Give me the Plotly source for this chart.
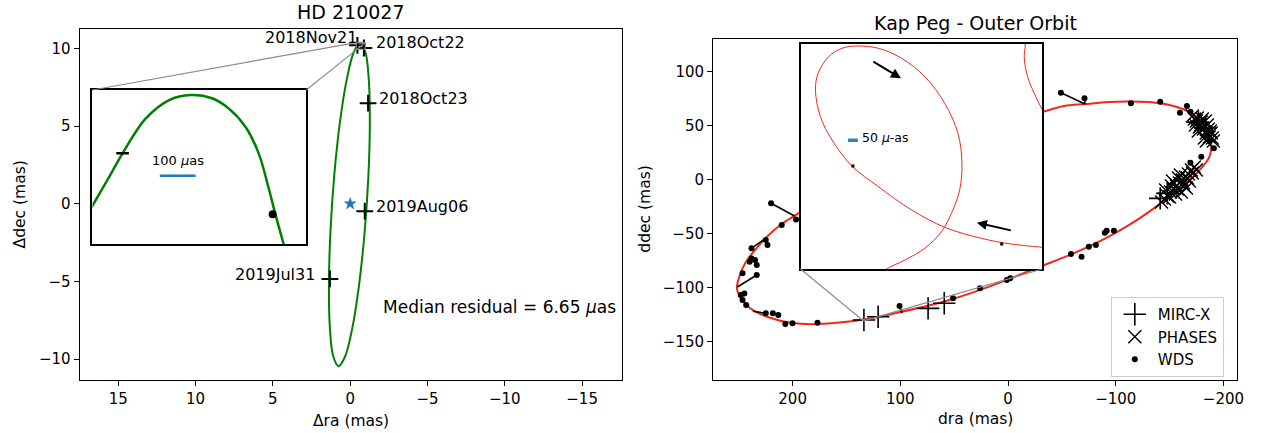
import plotly.graph_objects as go

# page geometry (the page body margin is removed by a post script, so the
# figure fills the 1261x433 window exactly)
PAGE_W, PAGE_H = 1261, 433
OFF = 0
FW, FH = PAGE_W - OFF, PAGE_H - OFF
FONT = "DejaVu Sans"

# ------------------------------------------------------------------ HD 210027
orbit_ra = [1.028, 1.274, 1.372, 1.312, 1.098, 0.759, 0.334, -0.126, -0.564, -0.928,
            -1.174, -1.272, -1.212, -0.998, -0.659, -0.234, 0.226, 0.664, 1.028]
orbit_dec = [1.830, -1.780, -5.184, -7.967, -9.795, -10.449, -9.847, -8.065, -5.316, -1.930,
             1.680, 5.084, 7.867, 9.695, 10.349, 9.747, 7.965, 5.216, 1.830]

epochs = ["2018Nov21", "2018Oct22", "2018Oct23", "2019Aug06", "2019Jul31"]
epoch_ra = [-0.47, -0.889, -1.16, -0.945, 1.31]
epoch_dec = [10.188, 10.019, 6.47, -0.48, -4.84]
primary_ra = [0.0]
primary_dec = [0.0]
median_text = "Median residual = 6.65 <i>μ</i>as"

zoom_ra = [-0.36, -0.387, -0.433, -0.470, -0.535, -0.600, -0.660, -0.720, -0.766,
           -0.813, -0.850, -0.877, -0.896, -0.919, -0.927]
zoom_dec = [9.998, 10.044, 10.123, 10.188, 10.285, 10.336, 10.350, 10.341, 10.313,
            10.262, 10.188, 10.095, 10.021, 9.938, 9.908]
zoom_ra_range = [-0.386, -0.983]
zoom_dec_range = [9.936, 10.364]
bar_ra = [-0.574, -0.674]
bar_dec = [10.126, 10.126]
bar_label_pos = (-0.624, 10.167)

# ------------------------------------------------------------------ Kap Peg
orbit2_ra = [-31.8, -52.1, -71.5, -93.6, -114.9, -135.2, -153.7, -168.4, -178.6, -185.1,
             -188.7, -186.9, -179.5, -168.4, -153.7, -137.0, -116.7, -90.9, -61.3, -29.0,
             1.5, 26.4, 57.8, 104.0, 133.5, 176.9, 200.0, 223.1, 239.7, 248.0, 251.7,
             248.9, 243.4, 234.2, 223.1, 210.2, 197.2, 191.7]
orbit2_dec = [62.5, 68.1, 69.9, 71.8, 72.2, 71.3, 68.1, 62.5, 54.2, 44.0,
              31.9, 20.8, 10.6, -0.5, -12.5, -25.5, -39.4, -54.2, -68.1, -81.0,
              -93.1, -102.3, -112.5, -123.6, -129.6, -133.8, -132.9, -127.3, -119.0, -109.7, -100.5,
              -88.4, -76.4, -64.4, -52.3, -41.2, -32.9, -29.2]

wds_ra = [-49.1, -71.0, -114.1, -141.3, -166.1, -159.6, -169.4, -187.7, -191.1, -179.4,
          -169.4, 220.0, 196.8, 210.1, 224.9, 223.3, 238.2, 238.2, 239.9, 234.9,
          233.3, 246.5, 233.3, 248.1, 244.8, 246.5, 243.1, 224.9, 218.3, 213.3,
          206.8, 200.1, 176.9, 100.7, 51.0, 26.0, 1.2, -2.1, -58.5, -68.3,
          -75.0, -81.6, -89.9, -91.6, -98.3]
wds_dec = [80.4, 75.2, 70.6, 72.0, 68.1, 61.9, 62.8, 36.6, 28.9, 21.1,
           15.6, -22.0, -36.9, -42.1, -56.0, -60.6, -63.7, -73.0, -76.1, -74.5,
           -79.2, -86.8, -88.4, -106.9, -105.4, -111.6, -116.2, -123.9, -123.9, -125.5,
           -133.8, -133.1, -132.6, -117.1, -110.0, -100.7, -93.1, -91.5, -69.0, -71.5,
           -62.2, -60.6, -49.3, -47.4, -47.4]
resid_idx = [0, 1, 11, 16, 22, 27, 33]
resid_model_ra = [-71.5, -71.5, 198.2, 224.9, 251.3, 236.9, 98.4]
resid_model_dec = [69.9, 69.9, -33.8, -54.2, -99.5, -121.8, -123.6]

mircx_ra = [133.8, 120.6, 74.2, 59.2, -141.3, -147.9, -176.7, -183.2]
mircx_dec = [-130.1, -127.0, -119.3, -114.6, -17.4, -12.8, 53.2, 47.7]

phases_ra = [-174.9, -178.6, -181.4, -184.1, -186.9, -176.7, -180.4, -185.1, -188.7, -182.3,
             -171.2, -173.0, -175.8, -179.5, -183.2, -186.0, -187.8, -189.7, -190.6, -177.7,
             -174.0, -184.1,
             -170.3, -167.5, -164.7, -162.0, -159.2, -156.4, -153.7, -150.9, -148.1, -163.8,
             -158.3, -168.4, -152.7, -161.0, -142.6, -145.3, -150.0, -155.5, -157.3, -162.9,
             -166.6, -171.2, -173.0, -174.9, -160.1, -146.3, -165.7, -151.8]
phases_dec = [54.2, 50.5, 46.8, 43.1, 39.4, 44.9, 56.0, 50.5, 43.1, 38.4,
              58.8, 56.0, 56.9, 53.2, 54.2, 46.8, 44.9, 38.4, 35.6, 48.6,
              50.5, 35.6,
              8.8, 5.1, 2.3, -0.5, -3.2, -6.0, -8.8, -11.6, -15.3, -6.0,
              1.4, -1.4, -1.4, -11.6, -20.8, -18.1, -16.2, -13.4, -8.8, -3.2,
              1.4, 6.0, 11.6, 8.8, 4.2, -9.7, -7.9, -6.0]

# inset (offsets in mas from the inset centre)
inset_center = (133.8, -130.1)
inset_half = (0.6075, 0.5625)
loopA_dx = [-0.6425, -0.609, -0.451, -0.301, -0.1175, 0.049, 0.216, 0.349, 0.449, 0.5075,
            0.5325, 0.519, 0.466, 0.399, 0.324, 0.216, 0.099, -0.0175, -0.1175, -0.184,
            -0.204, -0.1925, -0.151, -0.101, -0.0175, 0.0825, 0.1825, 0.2325]
loopA_dy = [-0.4575, -0.454, -0.4375, -0.409, -0.354, -0.2675, -0.151, -0.0475, 0.0825, 0.199,
            0.3325, 0.416, 0.499, 0.541, 0.5525, 0.541, 0.491, 0.399, 0.266, 0.116,
            -0.034, -0.1675, -0.284, -0.376, -0.459, -0.5175, -0.5675, -0.6175]
loopB_dx = [-0.5225, -0.5225, -0.5175, -0.534, -0.5675, -0.609, -0.6375]
loopB_dy = [0.5925, 0.5575, 0.491, 0.399, 0.316, 0.2325, 0.1825]
inset_pts_dx = [0.344, -0.404]
inset_pts_dy = [-0.0475, -0.4375]
arrow_tail_dx = [0.249, -0.4575]
arrow_tail_dy = [0.479, -0.371]
arrow_head_dx = [0.1025, -0.279]
arrow_head_dy = [0.391, -0.331]
bar2_dx = [0.369, 0.319]
bar2_dy = [0.081, 0.081]
bar2_label = (0.3075, 0.0975)


# ------------------------------------------------------------------ layout geometry
def dom_x(left, right):
    return [(left - OFF) / FW, (right - OFF) / FW]


def dom_y(top, bottom):
    return [(PAGE_H - bottom) / FH, (PAGE_H - top) / FH]


def pxx(p):
    return (p - OFF) / FW


def pyy(p):
    return (PAGE_H - p) / FH


L_xdom = dom_x(80, 625)
L_ydom = dom_y(29, 380)
R_xdom = dom_x(717, 1244)
R_ydom = dom_y(38.5, 380)
Li_xdom = dom_x(93, 308)
Li_ydom = dom_y(90, 244)
Ri_xdom = dom_x(805, 1048)
Ri_ydom = dom_y(44, 269)

L_xr = [17.5, -17.55]
L_yr = [-11.34, 11.24]
R_xr = [273.9, -212.7]
R_yr = [-185.6, 130.6]
X0, Y0 = inset_center
Ri_xr = [X0 + inset_half[0], X0 - inset_half[0]]
Ri_yr = [Y0 - inset_half[1], Y0 + inset_half[1]]


def to_paper(xv, yv, xdom, ydom, xr, yr):
    px = xdom[0] + (xv - xr[0]) / (xr[1] - xr[0]) * (xdom[1] - xdom[0])
    py = ydom[0] + (yv - yr[0]) / (yr[1] - yr[0]) * (ydom[1] - ydom[0])
    return px, py


fig = go.Figure()
BLACK = "black"
RED = "#f0281c"

# ---- left main
fig.add_trace(go.Scatter(x=orbit_ra, y=orbit_dec, mode="lines", line=dict(color="#008000", width=2, shape="spline"),
                         xaxis="x", yaxis="y", showlegend=False, hoverinfo="skip"))
fig.add_trace(go.Scatter(x=epoch_ra, y=epoch_dec, mode="markers",
                         marker=dict(symbol="cross-thin", size=12, line=dict(color=BLACK, width=2)),
                         xaxis="x", yaxis="y", showlegend=False))
fig.add_trace(go.Scatter(x=primary_ra, y=primary_dec, mode="markers",
                         marker=dict(symbol="star", size=10, color="#1f77b4"),
                         xaxis="x", yaxis="y", showlegend=False))

# ---- left inset
fig.add_trace(go.Scatter(x=zoom_ra, y=zoom_dec, mode="lines", line=dict(color="#008000", width=2.5, shape="spline"),
                         xaxis="x3", yaxis="y3", showlegend=False, hoverinfo="skip"))
fig.add_trace(go.Scatter(x=[epoch_ra[0]], y=[epoch_dec[0]], mode="markers",
                         marker=dict(symbol="line-ew", size=9, line=dict(color=BLACK, width=2.5)),
                         xaxis="x3", yaxis="y3", showlegend=False))
fig.add_trace(go.Scatter(x=[epoch_ra[1]], y=[epoch_dec[1]], mode="markers",
                         marker=dict(symbol="circle", size=8, color=BLACK),
                         xaxis="x3", yaxis="y3", showlegend=False))
fig.add_trace(go.Scatter(x=bar_ra, y=bar_dec, mode="lines", line=dict(color="#1f77b4", width=2.5),
                         xaxis="x3", yaxis="y3", showlegend=False))

# ---- right main
fig.add_trace(go.Scatter(x=orbit2_ra, y=orbit2_dec, mode="lines", line=dict(color=RED, width=2, shape="spline"),
                         xaxis="x2", yaxis="y2", showlegend=False, hoverinfo="skip"))
rx, ry = [], []
for i, mx, my in zip(resid_idx, resid_model_ra, resid_model_dec):
    rx += [wds_ra[i], mx, None]
    ry += [wds_dec[i], my, None]
fig.add_trace(go.Scatter(x=rx, y=ry, mode="lines", line=dict(color=BLACK, width=1.6),
                         xaxis="x2", yaxis="y2", showlegend=False, hoverinfo="skip"))
fig.add_trace(go.Scatter(x=mircx_ra, y=mircx_dec, mode="markers", name="MIRC-X", legendrank=1,
                         marker=dict(symbol="cross-thin", size=16, line=dict(color=BLACK, width=1.6)),
                         xaxis="x2", yaxis="y2"))
fig.add_trace(go.Scatter(x=phases_ra, y=phases_dec, mode="markers", name="PHASES", legendrank=2,
                         marker=dict(symbol="x-thin", size=13, line=dict(color=BLACK, width=1.4)),
                         xaxis="x2", yaxis="y2"))
fig.add_trace(go.Scatter(x=wds_ra, y=wds_dec, mode="markers", name="WDS", legendrank=3,
                         marker=dict(symbol="circle", size=6, color=BLACK),
                         xaxis="x2", yaxis="y2"))

# ---- right inset
fig.add_trace(go.Scatter(x=[X0 + d for d in loopA_dx], y=[Y0 + d for d in loopA_dy], mode="lines",
                         line=dict(color=RED, width=1, shape="spline"),
                         xaxis="x4", yaxis="y4", showlegend=False, hoverinfo="skip"))
fig.add_trace(go.Scatter(x=[X0 + d for d in loopB_dx], y=[Y0 + d for d in loopB_dy], mode="lines",
                         line=dict(color=RED, width=1, shape="spline"),
                         xaxis="x4", yaxis="y4", showlegend=False, hoverinfo="skip"))
fig.add_trace(go.Scatter(x=[X0 + d for d in inset_pts_dx], y=[Y0 + d for d in inset_pts_dy], mode="markers",
                         marker=dict(symbol="square", size=3, color=BLACK),
                         xaxis="x4", yaxis="y4", showlegend=False))
fig.add_trace(go.Scatter(x=[X0 + d for d in bar2_dx], y=[Y0 + d for d in bar2_dy], mode="lines",
                         line=dict(color="#3f7fbf", width=3.5),
                         xaxis="x4", yaxis="y4", showlegend=False))


def txt(size):
    return dict(size=size, family=FONT, color=BLACK)


annotations = []
# titles
annotations.append(dict(text="HD 210027", x=(L_xdom[0] + L_xdom[1]) / 2, y=pyy(12.5), xref="paper", yref="paper",
                        showarrow=False, font=txt(19), xanchor="center", yanchor="middle"))
annotations.append(dict(text="Kap Peg - Outer Orbit", x=(R_xdom[0] + R_xdom[1]) / 2, y=pyy(23), xref="paper",
                        yref="paper", showarrow=False, font=txt(19), xanchor="center", yanchor="middle"))
# axis titles
annotations.append(dict(text="Δra (mas)", x=(L_xdom[0] + L_xdom[1]) / 2, y=pyy(421), xref="paper", yref="paper",
                        showarrow=False, font=txt(15.5), xanchor="center", yanchor="middle"))
annotations.append(dict(text="dra (mas)", x=(R_xdom[0] + R_xdom[1]) / 2, y=pyy(419), xref="paper", yref="paper",
                        showarrow=False, font=txt(15.5), xanchor="center", yanchor="middle"))
annotations.append(dict(text="Δdec (mas)", x=pxx(20), y=(L_ydom[0] + L_ydom[1]) / 2, xref="paper", yref="paper",
                        showarrow=False, textangle=-90, font=txt(15.5), xanchor="center", yanchor="middle"))
annotations.append(dict(text="ddec (mas)", x=pxx(649), y=(R_ydom[0] + R_ydom[1]) / 2, xref="paper", yref="paper",
                        showarrow=False, textangle=-90, font=txt(15.5), xanchor="center", yanchor="middle"))
# epoch labels
label_style = [("right", 1.7, 8), ("left", 9.6, 5.7), ("left", 9, 5), ("left", 9, 5), ("right", -12.4, 4.3)]
for name, xv, yv, (anc, xs, ys) in zip(epochs, epoch_ra, epoch_dec, label_style):
    annotations.append(dict(text=name, x=xv, y=yv, xref="x", yref="y", showarrow=False, xanchor=anc,
                            yanchor="middle", xshift=xs, yshift=ys, font=txt(16)))
annotations.append(dict(text=median_text, x=-1.99, y=-6.63, xref="x", yref="y", showarrow=False, xanchor="left",
                        yanchor="middle", font=txt(17)))
annotations.append(dict(text="100 <i>μ</i>as", x=bar_label_pos[0], y=bar_label_pos[1], xref="x3", yref="y3",
                        showarrow=False, xanchor="center", yanchor="middle", font=txt(13)))
annotations.append(dict(text="50 <i>μ</i>-as", x=X0 + bar2_label[0], y=Y0 + bar2_label[1], xref="x4", yref="y4",
                        showarrow=False, xanchor="left", yanchor="middle", font=txt(12.5)))
for tdx, tdy, hdx, hdy in zip(arrow_tail_dx, arrow_tail_dy, arrow_head_dx, arrow_head_dy):
    annotations.append(dict(text="", x=X0 + hdx, y=Y0 + hdy, ax=X0 + tdx, ay=Y0 + tdy, xref="x4", yref="y4",
                            axref="x4", ayref="y4", showarrow=True, arrowhead=2, arrowsize=1, arrowwidth=2,
                            arrowcolor=BLACK))

shapes = []
GRAY = "#8c8c8c"
# left mark + connectors (upper-left, upper-right)
shapes.append(dict(type="rect", xref="x", yref="y", x0=zoom_ra_range[0], x1=zoom_ra_range[1],
                   y0=zoom_dec_range[0], y1=zoom_dec_range[1], line=dict(color=GRAY, width=1.2)))
for cx, mx in ((Li_xdom[0], zoom_ra_range[0]), (Li_xdom[1], zoom_ra_range[1])):
    px, py = to_paper(mx, zoom_dec_range[1], L_xdom, L_ydom, L_xr, L_yr)
    shapes.append(dict(type="line", xref="paper", yref="paper", x0=cx, y0=Li_ydom[1], x1=px, y1=py,
                       line=dict(color=GRAY, width=1.2)))
# right mark + connectors (lower-left, lower-right)
shapes.append(dict(type="rect", xref="x2", yref="y2", x0=Ri_xr[0], x1=Ri_xr[1], y0=Ri_yr[0], y1=Ri_yr[1],
                   line=dict(color=GRAY, width=1.2)))
for cx, mx in ((Ri_xdom[0], Ri_xr[0]), (Ri_xdom[1], Ri_xr[1])):
    px, py = to_paper(mx, Ri_yr[0], R_xdom, R_ydom, R_xr, R_yr)
    shapes.append(dict(type="line", xref="paper", yref="paper", x0=cx, y0=Ri_ydom[0], x1=px, y1=py,
                       line=dict(color=GRAY, width=1.2)))

main_axis = dict(showline=True, mirror=True, linecolor=BLACK, linewidth=1, ticks="outside", ticklen=5,
                 tickwidth=1, tickcolor=BLACK, showgrid=False, zeroline=False, tickfont=txt(15))
inset_axis = dict(showline=True, mirror=True, linecolor=BLACK, linewidth=1.6, ticks="", showticklabels=False,
                  showgrid=False, zeroline=False)

fig.update_layout(
    width=FW, height=FH, autosize=False,
    margin=dict(l=0, r=0, t=0, b=0),
    paper_bgcolor="white", plot_bgcolor="white",
    font=dict(family=FONT, color=BLACK),
    xaxis=dict(main_axis, domain=L_xdom, range=L_xr, tickvals=[15, 10, 5, 0, -5, -10, -15], anchor="y"),
    yaxis=dict(main_axis, domain=L_ydom, range=L_yr, tickvals=[10, 5, 0, -5, -10], anchor="x"),
    xaxis2=dict(main_axis, domain=R_xdom, range=R_xr, tickvals=[200, 100, 0, -100, -200], anchor="y2"),
    yaxis2=dict(main_axis, domain=R_ydom, range=R_yr, tickvals=[100, 50, 0, -50, -100, -150], anchor="x2"),
    xaxis3=dict(inset_axis, domain=Li_xdom, range=zoom_ra_range, anchor="y3"),
    yaxis3=dict(inset_axis, domain=Li_ydom, range=zoom_dec_range, anchor="x3"),
    xaxis4=dict(inset_axis, domain=Ri_xdom, range=Ri_xr, anchor="y4"),
    yaxis4=dict(inset_axis, domain=Ri_ydom, range=Ri_yr, anchor="x4"),
    legend=dict(x=pxx(1117), y=pyy(297), xanchor="left", yanchor="top", bgcolor="rgba(255,255,255,0.85)",
                bordercolor="#cccccc", borderwidth=1, font=txt(15), itemwidth=36, tracegroupgap=0),
    annotations=annotations,
    shapes=shapes,
)

fig.write_html("out.html", config={"displayModeBar": False},
               post_script="document.body.style.margin='0';document.body.style.overflow='hidden';")
